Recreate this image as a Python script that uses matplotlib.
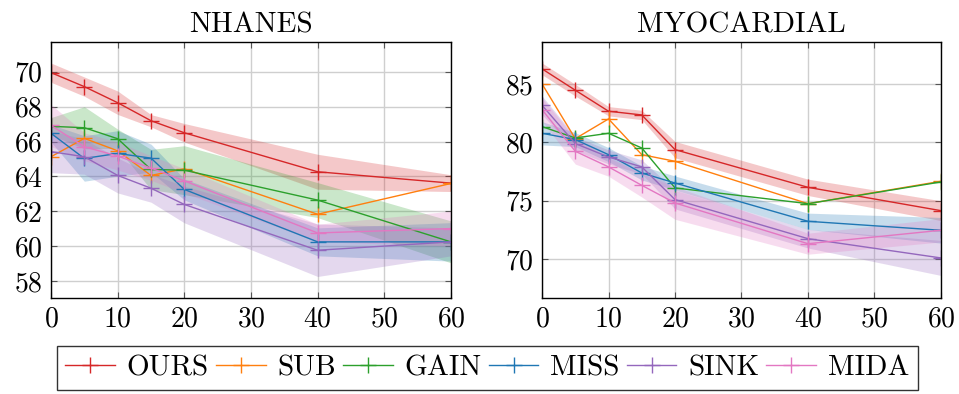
import numpy as np
import matplotlib
matplotlib.use("Agg")
import matplotlib.pyplot as plt

plt.rcParams['font.family'] = 'cmr10'
plt.rcParams['mathtext.fontset'] = 'cm'
plt.rcParams['axes.formatter.use_mathtext'] = True

# missing rate (%)
x = [0, 5, 10, 15, 20, 40, 60]
methods = ["OURS", "SUB", "GAIN", "MISS", "SINK", "MIDA"]
colors = ["#d62728", "#ff7f0e", "#2ca02c", "#1f77b4", "#9467bd", "#e377c2"]

# NHANES
nh_ours = [69.94, 69.14, 68.22, 67.19, 66.50, 64.27, 63.62]
nh_sub = [65.13, 66.18, 65.47, 64.06, 64.44, 61.84, 63.60]
nh_gain = [66.87, 66.79, 66.16, 64.40, 64.36, 62.65, 60.26]
nh_miss = [66.47, 65.03, 65.32, 65.05, 63.26, 60.26, 60.26]
nh_sink = [65.42, 65.13, 64.06, 63.33, 62.40, 59.78, 60.26]
nh_mida = [66.92, 65.70, 65.17, 64.48, 63.75, 60.77, 61.02]

nh_ours_sd = [0.55, 0.55, 0.67, 0.35, 0.53, 1.0, 0.48]
nh_gain_sd = [0.5, 1.2, 0.55, 1.15, 1.4, 1.0, 1.2]
nh_miss_sd = [0.5, 1.3, 1.3, 0.8, 0.6, 0.8, 1.1]
nh_sink_sd = [1.2, 1.0, 1.0, 0.8, 1.05, 1.5, 0.8]
nh_mida_sd = [1.2, 0.8, 0.8, 0.7, 0.7, 0.5, 1.0]

# MYOCARDIAL
my_ours = [86.29, 84.46, 82.66, 82.34, 79.37, 76.14, 74.14]
my_sub = [85.00, 80.31, 82.00, 78.94, 78.37, 74.74, 76.66]
my_gain = [81.34, 80.37, 80.77, 79.51, 76.09, 74.74, 76.60]
my_miss = [80.77, 80.23, 78.94, 77.37, 76.51, 73.23, 72.46]
my_sink = [83.17, 79.89, 78.74, 77.89, 75.09, 71.74, 70.09]
my_mida = [82.80, 79.23, 77.89, 76.31, 74.80, 71.31, 72.46]

my_ours_sd = [0.5, 0.5, 0.4, 0.4, 0.7, 0.7, 0.85]
my_miss_sd = [1.0, 0.6, 0.6, 0.6, 0.6, 0.7, 1.1]
my_sink_sd = [0.8, 0.6, 0.6, 0.6, 0.8, 0.8, 1.5]
my_mida_sd = [1.0, 1.1, 0.8, 1.0, 1.4, 0.9, 1.0]

panels = [
    ("NHANES",
     [nh_ours, nh_sub, nh_gain, nh_miss, nh_sink, nh_mida],
     [nh_ours_sd, None, nh_gain_sd, nh_miss_sd, nh_sink_sd, nh_mida_sd],
     (57.05, 71.7), [58, 60, 62, 64, 66, 68, 70]),
    ("MYOCARDIAL",
     [my_ours, my_sub, my_gain, my_miss, my_sink, my_mida],
     [my_ours_sd, None, None, my_miss_sd, my_sink_sd, my_mida_sd],
     (66.66, 88.6), [70, 75, 80, 85]),
]

fig = plt.figure(figsize=(9.59, 3.94), dpi=100)
positions = [[0.0532, 0.2437, 0.417, 0.65], [0.5652, 0.2437, 0.416, 0.65]]

handles = []
for pos, (title, series, sds, ylim, yticks) in zip(positions, panels):
    ax = fig.add_axes(pos)
    for vals, sd, c in zip(series, sds, colors):
        if sd is not None:
            v = np.array(vals)
            s = np.array(sd)
            ax.fill_between(x, v - s, v + s, color=c, alpha=0.25, linewidth=0)
    hs = []
    for name, vals, c in zip(methods, series, colors):
        h, = ax.plot(x, vals, color=c, marker='+', markersize=11,
                     markeredgewidth=1.0, linewidth=1.0, label=name)
        hs.append(h)
    handles = hs
    ax.set_xlim(0, 60)
    ax.set_ylim(*ylim)
    ax.set_xticks([0, 10, 20, 30, 40, 50, 60])
    ax.set_yticks(yticks)
    ax.grid(True, color='#cfcfcf', linewidth=1.0)
    ax.set_axisbelow(True)
    ax.tick_params(direction='in', top=True, right=True, length=4,
                   color='#555555', labelsize=20, pad=6)
    for sp in ax.spines.values():
        sp.set_linewidth(1.0)
    ax.set_title(title, fontsize=21, pad=7)

leg = fig.legend(handles, methods, loc='upper center', ncol=6,
                 bbox_to_anchor=(0.508, 0.122), fontsize=21, frameon=True,
                 fancybox=False, edgecolor='black', handlelength=1.7,
                 handletextpad=0.4, columnspacing=0.25, borderpad=0.3,
                 borderaxespad=0)
leg.get_frame().set_linewidth(1.0)

fig.savefig("out.png", dpi=100)
